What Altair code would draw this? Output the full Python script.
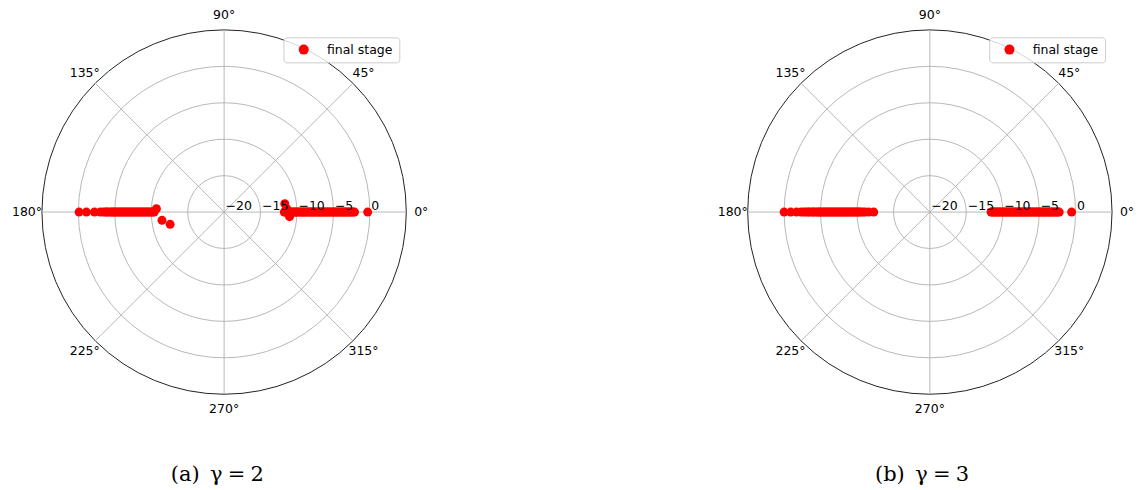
import altair as alt
import pandas as pd

# ---------------- data ----------------
series_name = "final stage"

# radial axis
r_min = -20
r_max = 5
r_ticks = [-20, -15, -10, -5, 0]
r_tick_labels = ["\u221220", "\u221215", "\u221210", "\u22125", "0"]
r_grid = [-15, -10, -5, 0]

# angular axis
angles = [0, 45, 90, 135, 180, 225, 270, 315]
angle_labels = ["0°", "45°", "90°", "135°", "180°", "225°", "270°", "315°"]

# (a) gamma = 2
g2_r_at_0 = [-11.75, -11.6, -11.45, -11.3, -11.1, -10.95, -10.8, -10.6, -10.4, -10.25,
             -10.05, -9.9, -9.7, -9.5, -9.3, -9.15, -8.95, -8.8, -8.6, -8.4, -8.2,
             -8.05, -7.85, -7.7, -7.5, -7.3, -7.1, -6.95, -6.75, -6.6, -6.4, -6.2,
             -6.0, -5.85, -5.65, -5.5, -5.3, -5.1, -4.9, -4.75, -4.55, -4.4, -4.2,
             -4.0, -3.8, -3.65, -3.45, -3.3, -3.1, -2.9, -2.7, -2.5, -2.3, -2.1, -0.3]
g2_r_at_180 = [-0.1, -1.1, -2.2, -3.0, -3.4, -3.7, -3.9, -4.1, -4.4, -4.6, -4.8, -5.0,
               -5.2, -5.4, -5.6, -5.8, -6.0, -6.2, -6.4, -6.6, -6.8, -7.0, -7.2, -7.4,
               -7.6, -7.8, -8.0, -8.2, -8.4, -8.6, -8.8, -9.0, -9.2, -9.4, -9.6, -9.8,
               -10.0, -10.2, -10.4]
g2_extra_theta = [7.8, 3.0, 356.0, 177.2, 187.6, 192.8]
g2_extra_r = [-11.6, -11.4, -11.0, -10.7, -11.4, -12.4]

# (b) gamma = 3
g3_r_at_0 = [-11.6, -11.45, -11.3, -11.1, -10.9, -10.75, -10.55, -10.4, -10.2, -10.0,
             -9.85, -9.65, -9.5, -9.3, -9.1, -8.95, -8.75, -8.6, -8.4, -8.2, -8.05,
             -7.85, -7.7, -7.5, -7.3, -7.15, -6.95, -6.8, -6.6, -6.4, -6.25, -6.05,
             -5.9, -5.7, -5.5, -5.35, -5.15, -5.0, -4.8, -4.6, -4.45, -4.25, -4.1,
             -3.9, -3.7, -3.55, -3.35, -3.2, -3.0, -2.8, -2.6, -2.4, -2.25, -0.55]
g3_r_at_180 = [0.0, -0.9, -1.7, -2.3, -2.7, -3.0, -3.3, -3.5, -3.8, -4.0, -4.2, -4.5,
               -4.7, -4.9, -5.1, -5.3, -5.5, -5.7, -5.9, -6.1, -6.3, -6.5, -6.7, -6.9,
               -7.1, -7.3, -7.5, -7.7, -7.9, -8.1, -8.3, -8.5, -8.7, -8.9, -9.1, -9.3,
               -9.5, -9.7, -9.9, -10.1, -10.3, -10.5, -10.8, -11.1, -11.6, -12.3]

captions = ["(a)\u2002\u03b3\u2005=\u20052", "(b)\u2002\u03b3\u2005=\u20053"]

# ---------------- geometry / style ----------------
PXU = 7.3                      # pixels per radial unit
H = 404
LEFT_HALF = 216.5              # pixels from view's left edge to the pole
RHO_OUT = r_max - r_min
RHO_LABEL = 27.05
FONT = "DejaVu Sans"
FS = 12.5


def points_frame(r0, r180, et, er):
    thetas = [0.0] * len(r0) + [180.0] * len(r180) + list(et)
    rs = list(r0) + list(r180) + list(er)
    return pd.DataFrame({"theta": thetas, "r": rs, "series": series_name})


def panel(df_points, caption, dx, right_half):
    width = LEFT_HALF + right_half
    xs = alt.Scale(domain=[-LEFT_HALF / PXU, right_half / PXU], nice=False, zero=False)
    ys = alt.Scale(domain=[-(H / 2) / PXU, (H / 2) / PXU], nice=False, zero=False)
    rs = alt.Scale(type="linear", domain=[0, RHO_OUT], range=[0, RHO_OUT * PXU], zero=True, nice=False)
    cx = alt.value(LEFT_HALF)

    grid = alt.Chart(pd.DataFrame({"r": r_grid})).transform_calculate(
        rho=f"datum.r - ({r_min})"
    ).mark_arc(theta=0, theta2=6.2832, fill="transparent", stroke="#b0b0b0", strokeWidth=0.9).encode(
        radius=alt.Radius("rho:Q", scale=rs, stack=None), x=cx,
    )
    outer = alt.Chart(pd.DataFrame({"r": [r_max]})).transform_calculate(
        rho=f"datum.r - ({r_min})"
    ).mark_arc(theta=0, theta2=6.2832, fill="transparent", stroke="#222222", strokeWidth=1).encode(
        radius=alt.Radius("rho:Q", scale=rs, stack=None), x=cx,
    )
    spokes = alt.Chart(pd.DataFrame({"a": angles})).transform_calculate(
        x0="0", y0="0",
        x1=f"{RHO_OUT}*cos(datum.a*PI/180)",
        y1=f"{RHO_OUT}*sin(datum.a*PI/180)",
    ).mark_rule(color="#b0b0b0", strokeWidth=0.9).encode(
        x=alt.X("x0:Q", scale=xs, axis=None),
        y=alt.Y("y0:Q", scale=ys, axis=None),
        x2="x1:Q", y2="y1:Q",
    )
    pts = alt.Chart(df_points).transform_calculate(
        rho=f"datum.r - ({r_min})",
        px="datum.rho*cos(datum.theta*PI/180)",
        py="datum.rho*sin(datum.theta*PI/180)",
    ).mark_point(filled=True, size=81, opacity=1, strokeWidth=0).encode(
        x=alt.X("px:Q", scale=xs, axis=None),
        y=alt.Y("py:Q", scale=ys, axis=None),
        color=alt.Color(
            "series:N",
            scale=alt.Scale(domain=[series_name], range=["#ff0000"]),
            legend=alt.Legend(
                title=None, orient="none", legendX=276, legendY=27,
                fillColor="rgba(255,255,255,0.8)", strokeColor="#cccccc",
                cornerRadius=3, padding=6, symbolType="circle", symbolSize=100,
                symbolOffset=8, labelOffset=17, labelFont=FONT, labelFontSize=FS,
                labelColor="black", symbolStrokeWidth=0,
            ),
        ),
    )
    rlabels = alt.Chart(pd.DataFrame({"r": r_ticks, "label": r_tick_labels})).transform_calculate(
        rho=f"datum.r - ({r_min})", zero="0"
    ).mark_text(align="left", baseline="alphabetic", dx=1.5, dy=-2, font=FONT, fontSize=FS, color="black").encode(
        x=alt.X("rho:Q", scale=xs, axis=None),
        y=alt.Y("zero:Q", scale=ys, axis=None),
        text="label:N",
    )
    alabels = alt.Chart(pd.DataFrame({"a": angles, "label": angle_labels})).transform_calculate(
        lx=f"{RHO_LABEL}*cos(datum.a*PI/180)",
        ly=f"{RHO_LABEL}*sin(datum.a*PI/180)",
    ).mark_text(align="center", baseline="middle", font=FONT, fontSize=FS, color="black").encode(
        x=alt.X("lx:Q", scale=xs, axis=None),
        y=alt.Y("ly:Q", scale=ys, axis=None),
        text="label:N",
    )
    return alt.layer(grid, outer, spokes, pts, rlabels, alabels).properties(
        width=width, height=H,
        title=alt.TitleParams(
            caption, orient="bottom", anchor="start", font="DejaVu Serif",
            fontSize=21, fontWeight="normal", color="black", baseline="alphabetic",
            offset=65, dx=LEFT_HALF + dx,
        ),
    )


left = panel(points_frame(g2_r_at_0, g2_r_at_180, g2_extra_theta, g2_extra_r), captions[0], -53.5, 216.5)
right = panel(points_frame(g3_r_at_0, g3_r_at_180, [], []), captions[1], -55, 203.5)

chart = alt.hconcat(left, right, spacing=274).resolve_legend(color="independent").properties(
    padding=0
).configure_view(stroke=None)

chart.save("out.html", embed_options={"renderer": "svg", "actions": False})
